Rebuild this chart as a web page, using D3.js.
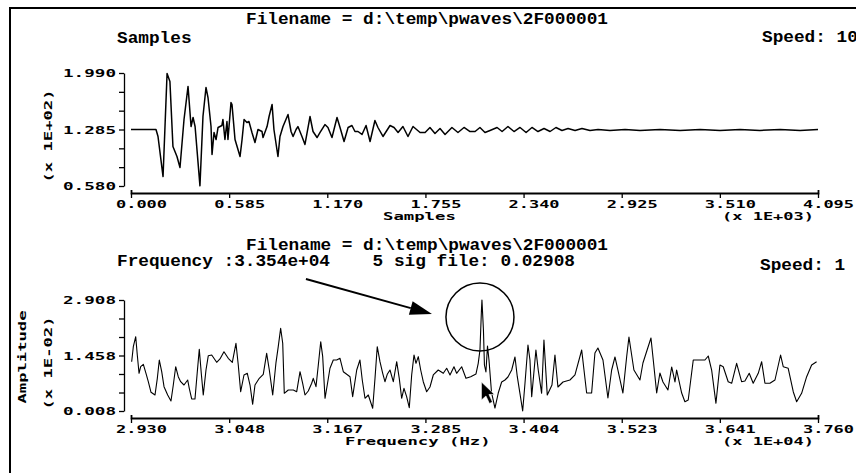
<!DOCTYPE html>
<html>
<head>
<meta charset="utf-8">
<script src="https://cdn.jsdelivr.net/npm/d3@7"></script>
<style>
  body { margin: 0; background: #fff; }
  svg { display: block; }
  .head { font-family: "Liberation Mono", monospace; font-weight: bold; font-size: 16px; white-space: pre; }
  .lbl { font-family: "DejaVu Sans Mono", monospace; font-weight: bold; font-size: 11px; }
</style>
</head>
<body>
<div id="chart"></div>
<script>
// time record: [sample index, value]
const waveSamples = [
  [0,128.5],[149,128.5],[161,119.8],[191,69.8],[215,198.4],[232,188.4],[250,107.3],[274,94.8],
  [292,81.1],[316,141.0],[340,182.2],[358,132.2],[370,143.5],[382,132.2],[411,58.2],[429,144.7],
  [447,180.9],[459,168.4],[477,132.2],[483,97.3],[495,124.8],[507,116.0],[519,131.0],[542,133.5],
  [548,141.0],[560,116.0],[572,138.5],[578,116.0],[596,162.2],[602,159.7],[620,116.0],[650,94.8],
  [662,116.0],[674,141.0],[691,137.2],[703,138.5],[721,124.8],[739,112.3],[757,128.5],[781,126.0],
  [787,118.5],[811,132.2],[823,144.7],[841,159.7],[852,128.5],[876,94.8],[888,119.8],[906,132.2],
  [936,147.2],[954,126.0],[966,119.8],[984,128.5],[995,132.2],[1019,119.8],[1037,109.8],[1067,144.7],
  [1085,126.0],[1109,118.5],[1127,124.8],[1156,134.7],[1174,131.0],[1198,118.5],[1228,143.5],[1246,131.0],
  [1270,113.5],[1294,131.0],[1317,133.5],[1335,126.0],[1353,126.0],[1377,122.3],[1401,133.5],[1425,113.5],
  [1454,139.7],[1472,131.0],[1502,119.8],[1544,133.5],[1568,131.0],[1592,124.8],[1621,132.2],[1651,119.8],
  [1681,132.2],[1723,124.8],[1753,124.8],[1782,131.0],[1812,123.5],[1842,129.7],[1872,122.3],[1913,131.0],
  [1949,124.8],[1985,131.0],[2021,126.0],[2051,126.0],[2080,131.0],[2110,124.8],[2140,127.3],[2182,131.0],
  [2212,126.0],[2247,132.2],[2283,126.0],[2319,131.0],[2355,124.8],[2390,131.0],[2426,126.0],[2462,129.7],
  [2498,126.0],[2533,131.0],[2569,127.3],[2605,129.7],[2647,127.3],[2688,129.7],[2736,127.3],[2784,128.5],
  [2855,127.3],[2945,128.5],[3034,127.3],[3153,128.5],[3273,127.3],[3392,128.5],[3511,127.3],[3630,128.5],
  [3749,127.3],[3869,128.5],[3988,127.3],[4095,128.5]
];

// spectrum: [frequency Hz, amplitude (x 1E-02)]
const spectrum = [
  [29308,1.296],[29328,1.688],[29357,1.949],[29376,1.471],[29397,0.993],[29417,1.165],[29449,1.228],[29481,0.993],
  [29509,0.773],[29542,0.497],[29590,0.426],[29618,0.862],[29642,1.340],[29671,1.035],[29699,0.643],[29743,0.426],
  [29783,0.269],[29811,0.687],[29840,1.165],[29871,0.904],[29900,0.773],[29940,0.687],[29985,0.818],[30004,0.601],
  [30033,0.322],[30073,0.322],[30101,1.035],[30125,1.620],[30149,0.993],[30173,0.426],[30206,1.079],[30234,1.453],
  [30275,1.471],[30335,1.280],[30375,1.367],[30423,1.557],[30475,1.385],[30524,1.280],[30568,1.777],[30596,1.210],
  [30625,0.512],[30665,0.949],[30705,0.993],[30738,0.687],[30770,0.183],[30798,0.687],[30850,0.862],[30898,0.967],
  [30939,1.515],[30971,1.079],[31012,0.426],[31052,1.280],[31079,1.688],[31108,2.169],[31133,1.777],[31152,0.470],
  [31200,0.557],[31261,0.557],[31302,0.512],[31342,1.035],[31374,0.732],[31402,0.426],[31442,0.531],[31483,0.732],
  [31502,0.862],[31535,0.643],[31563,1.210],[31592,1.819],[31616,1.427],[31644,0.340],[31671,0.687],[31704,1.124],
  [31744,1.340],[31785,1.340],[31825,1.385],[31865,1.035],[31906,0.967],[31946,0.904],[31978,0.382],[32027,1.079],
  [32066,1.340],[32094,0.818],[32127,0.340],[32167,0.426],[32220,0.079],[32248,0.862],[32275,1.688],[32308,1.296],
  [32341,0.993],[32368,0.773],[32396,0.967],[32429,1.079],[32469,0.773],[32510,1.296],[32541,0.862],[32570,0.340],
  [32598,0.601],[32630,0.382],[32662,0.094],[32691,0.949],[32719,1.471],[32743,1.254],[32771,1.427],[32800,1.079],
  [32831,0.773],[32872,0.512],[32912,0.635],[32952,0.949],[33012,1.079],[33073,0.993],[33114,1.124],[33154,0.949],
  [33202,1.165],[33234,0.993],[33295,1.165],[33347,0.862],[33404,0.904],[33468,0.975],[33495,1.254],[33516,1.602],
  [33534,2.647],[33540,2.908],[33558,2.124],[33570,1.210],[33588,1.027],[33607,1.706],[33625,1.340],[33655,0.504],
  [33697,0.086],[33737,0.478],[33778,0.766],[33818,0.818],[33854,0.896],[33899,1.079],[33939,1.419],[33967,0.904],
  [33999,0.470],[34032,0.008],[34060,0.732],[34096,1.732],[34120,1.340],[34141,0.382],[34192,1.602],[34220,1.079],
  [34261,0.470],[34289,1.863],[34329,0.426],[34386,0.687],[34422,1.471],[34458,0.635],[34519,0.766],[34603,0.818],
  [34664,0.949],[34745,1.602],[34805,0.478],[34865,0.478],[34905,1.523],[34941,1.654],[35002,1.340],[35062,0.348],
  [35107,1.079],[35147,1.419],[35183,1.079],[35243,0.478],[35288,1.419],[35316,1.941],[35376,1.079],[35449,0.818],
  [35485,1.262],[35582,1.915],[35606,1.419],[35651,0.478],[35690,1.001],[35727,0.766],[35787,0.557],[35832,1.158],
  [35872,0.766],[35892,1.079],[35953,0.478],[35992,0.251],[36032,0.295],[36093,1.340],[36174,1.340],[36234,1.340],
  [36274,1.445],[36315,1.079],[36367,0.209],[36415,1.210],[36455,1.165],[36515,0.773],[36557,0.732],[36617,1.254],
  [36677,0.773],[36717,0.792],[36769,0.993],[36817,0.732],[36878,0.993],[36919,1.296],[36959,0.732],[37019,0.732],
  [37080,0.818],[37148,1.471],[37180,1.165],[37240,1.124],[37301,0.512],[37342,0.251],[37402,0.470],[37463,0.904],
  [37523,1.210],[37583,1.296]
];

const sampleTicks = [0, 585, 1170, 1755, 2340, 2925, 3510, 4095];
const sampleTickLabels = ["0.000", "0.585", "1.170", "1.755", "2.340", "2.925", "3.510", "4.095"];
const valueTicks = [58, 81.5, 105, 128.5, 152, 175.5, 199];
const valueTickLabels = ["0.580", "", "", "1.285", "", "", "1.990"];
const freqTicks = [29300, 30486, 31671, 32857, 34043, 35229, 36414, 37600];
const freqTickLabels = ["2.930", "3.048", "3.167", "3.285", "3.404", "3.523", "3.641", "3.760"];
const ampTicks = [0.008, 0.491, 0.975, 1.458, 1.941, 2.425, 2.908];
const ampTickLabels = ["0.008", "", "", "1.458", "", "", "2.908"];

const fileName = "Filename = d:\\temp\\pwaves\\2F000001";
const peakFreq = 33540;
const peakAmp = 2.908;
const freqLine = "Frequency :3.354e+04    5 sig file: 0.02908";

const W = 856, H = 473;
const plotLeft = 131, plotRight = 818, yAxisX = 124;

const svg = d3.select("#chart").append("svg")
    .attr("width", W)
    .attr("height", H)
    .style("background", "#fff");

// window frame (top + left edges only are visible)
svg.append("path")
    .attr("d", `M10,${H}V8H${W}`)
    .attr("fill", "none")
    .attr("stroke", "#000")
    .attr("stroke-width", 2);

function label(g, cls, x, y, txt, len) {
    const t = g.append("text").attr("class", cls).attr("x", x).attr("y", y).text(txt);
    if (len) t.attr("textLength", len).attr("lengthAdjust", "spacingAndGlyphs");
    return t;
}

function drawPanel(cfg) {
    const g = svg.append("g");
    const x = d3.scaleLinear().domain(cfg.xDomain).range([plotLeft, plotRight]);
    const y = d3.scaleLinear().domain(cfg.yDomain).range([cfg.bottom, cfg.top]);

    // header lines
    label(g, "head", 246, cfg.titleY, fileName, 362);
    label(g, "head", 117, cfg.subY, cfg.sub, cfg.sub.length * 10.65);
    label(g, "head", cfg.speedX, cfg.subY + cfg.speedDy, cfg.speed, cfg.speed.length * 10.65);

    // y axis
    const ya = g.append("g")
        .attr("transform", `translate(${yAxisX},0)`)
        .call(d3.axisLeft(y).tickValues(cfg.yTicks)
            .tickFormat((d, i) => cfg.yLabels[i])
            .tickSize(5).tickSizeOuter(0));
    ya.select(".domain").attr("stroke-width", 1.3);
    ya.selectAll(".tick line").attr("stroke-width", 1.3);
    ya.selectAll(".tick text")
        .attr("class", "lbl")
        .attr("fill", "#000")
        .attr("x", -61).attr("dy", "0.36em")
        .attr("text-anchor", "start")
        .each(function(d, i) {
            if (cfg.yLabels[i]) d3.select(this).attr("textLength", 53).attr("lengthAdjust", "spacingAndGlyphs");
        });

    // x axis
    const xa = g.append("g")
        .attr("transform", `translate(0,${cfg.axisY})`)
        .call(d3.axisBottom(x).tickValues(cfg.xTicks)
            .tickFormat((d, i) => cfg.xLabels[i])
            .tickSize(5).tickSizeOuter(-3));
    xa.select(".domain").attr("stroke-width", 1.8);
    xa.selectAll(".tick line").attr("stroke-width", 1.3);
    xa.selectAll(".tick text")
        .attr("class", "lbl")
        .attr("fill", "#000")
        .attr("x", -15.5).attr("y", 14.5).attr("dy", 0)
        .attr("text-anchor", "start")
        .attr("textLength", 51).attr("lengthAdjust", "spacingAndGlyphs");

    // axis titles
    label(g, "lbl", cfg.xTitleX, cfg.axisY + 26.5, cfg.xTitle, cfg.xTitle.length * 10.4);
    label(g, "lbl", 722, cfg.axisY + 27, cfg.xUnit, 92);
    cfg.yTitles.forEach(t => {
        g.append("text")
            .attr("class", "lbl")
            .attr("transform", `translate(${t.x},${t.y}) rotate(-90)`)
            .attr("text-anchor", "middle")
            .attr("textLength", 93).attr("lengthAdjust", "spacingAndGlyphs")
            .text(t.text);
    });

    // trace
    g.append("path")
        .datum(cfg.data)
        .attr("fill", "none")
        .attr("stroke", "#000")
        .attr("stroke-width", cfg.lw)
        .attr("stroke-linejoin", "round")
        .attr("d", d3.line().x(d => x(d[0])).y(d => y(d[1])));

    return {g, x, y};
}

drawPanel({
    xDomain: [0, 4095], yDomain: [58, 199], top: 73, bottom: 186, axisY: 193,
    titleY: 24, sub: "Samples", subY: 43, speed: "Speed: 10", speedX: 762, speedDy: -1,
    xTicks: sampleTicks, xLabels: sampleTickLabels,
    yTicks: valueTicks, yLabels: valueTickLabels,
    xTitle: "Samples", xTitleX: 383, xUnit: "(x 1E+03)",
    yTitles: [{text: "(x 1E+02)", x: 52, y: 136}],
    data: waveSamples, lw: 1.5
});

const bottom = drawPanel({
    xDomain: [29300, 37600], yDomain: [0.008, 2.908], top: 300, bottom: 411, axisY: 418,
    titleY: 250, sub: freqLine, subY: 266, speed: "Speed: 1", speedX: 760, speedDy: 4,
    xTicks: freqTicks, xLabels: freqTickLabels,
    yTicks: ampTicks, yLabels: ampTickLabels,
    xTitle: "Frequency (Hz)", xTitleX: 345, xUnit: "(x 1E+04)",
    yTitles: [{text: "Amplitude", x: 26, y: 357}, {text: "(x 1E-02)", x: 52, y: 363}],
    data: spectrum, lw: 1.1
});

// annotation: circle round the peak, arrow from the readout, mouse pointer
const px = bottom.x(peakFreq), py = bottom.y(peakAmp);
const ann = bottom.g.append("g");
ann.append("circle")
    .attr("cx", px - 2).attr("cy", py + 17).attr("r", 34)
    .attr("fill", "none").attr("stroke", "#000").attr("stroke-width", 1.5);

const tip = [px - 50, py + 14], start = [px - 176, py - 21];
const dx = tip[0] - start[0], dy = tip[1] - start[1], len = Math.hypot(dx, dy);
const ux = dx / len, uy = dy / len;
const base = [tip[0] - 22 * ux, tip[1] - 22 * uy];
ann.append("line")
    .attr("x1", start[0]).attr("y1", start[1])
    .attr("x2", base[0]).attr("y2", base[1])
    .attr("stroke", "#000").attr("stroke-width", 2);
ann.append("path")
    .attr("d", `M${tip[0]},${tip[1]}L${base[0] - 7 * uy},${base[1] + 7 * ux}L${base[0] + 7 * uy},${base[1] - 7 * ux}Z`)
    .attr("fill", "#000");

const cur = [px - 0.5, bottom.y(0.766)];
ann.append("path")
    .attr("transform", `translate(${cur[0]},${cur[1]})`)
    .attr("d", "M0,0V18L4.5,14L8,21.5L11,20L7.5,12.5H13Z")
    .attr("fill", "#000").attr("stroke", "#fff").attr("stroke-width", 0.6);
</script>
</body>
</html>
